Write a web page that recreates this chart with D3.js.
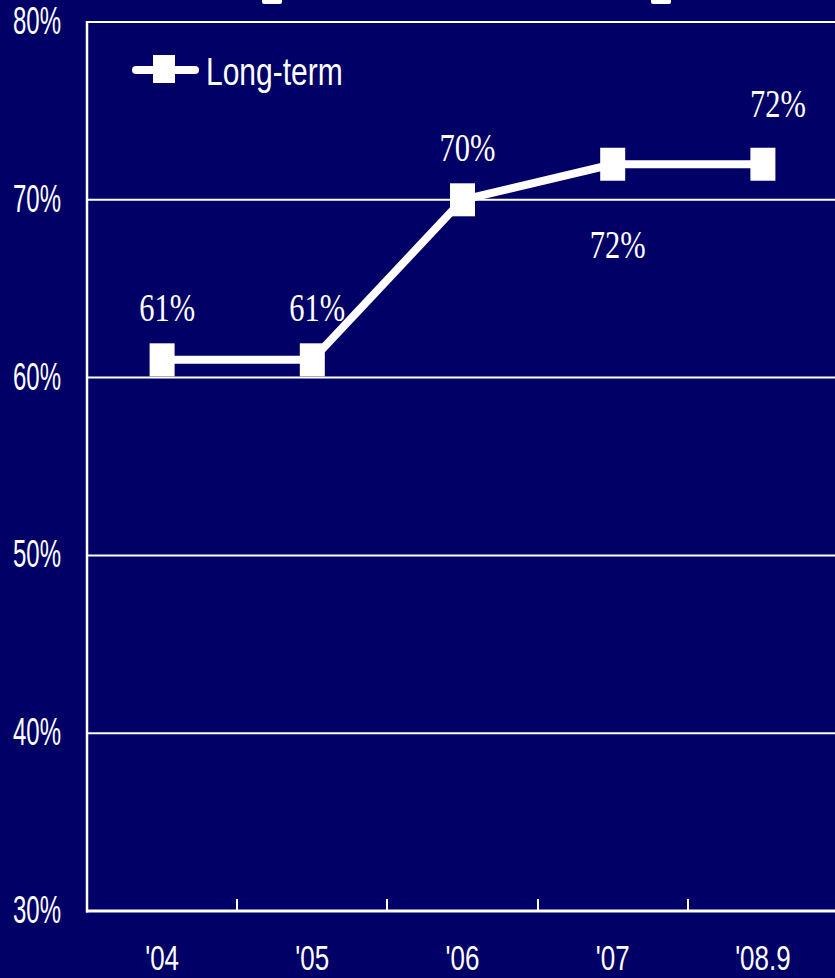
<!DOCTYPE html>
<html><head><meta charset="utf-8">
<script src="https://cdn.jsdelivr.net/npm/d3@7"></script>
<style>html,body{margin:0;padding:0;background:#000066;overflow:hidden}</style>
</head><body>
<script>
const categories = ["'04", "'05", "'06", "'07", "'08.9"];
const longTerm = [61, 61, 70, 72, 72];
const valueLabels = ["61%", "61%", "70%", "72%", "72%"];
const labelPlacement = ["above", "above", "above", "below", "aboveRight"];
const yTicks = [30, 40, 50, 60, 70, 80];
const seriesName = "Long-term";

(function () {
const W = 835, H = 978;
const bg = "#000066";
const svg = d3.select("body").append("svg").attr("width", W).attr("height", H);
svg.append("rect").attr("width", W).attr("height", H).attr("fill", bg);

const pLeft = 87, pTop = 22, pBottom = 911, pRight = 838;
const x = d3.scaleBand().domain(categories).range([pLeft, pRight]);
const y = d3.scaleLinear().domain([30, 80]).range([pBottom, pTop]);
const placeOffset = { above: [5, -39], below: [5, 94], aboveRight: [15, -47] };

// fragments of clipped title at top
[[262, 282], [651, 671]].forEach(([a, b]) => {
  svg.append("rect").attr("x", a).attr("y", -6).attr("width", b - a).attr("height", 10).attr("rx", 2).attr("fill", "#fff");
});

// grid lines
svg.append("g").selectAll("line").data(yTicks.filter(t => t > 30)).join("line")
  .attr("x1", pLeft).attr("x2", W + 5)
  .attr("y1", d => y(d)).attr("y2", d => y(d))
  .attr("stroke", "#fff").attr("stroke-width", 2);

// axes frame
svg.append("line").attr("x1", pLeft).attr("x2", pLeft).attr("y1", pTop - 1).attr("y2", pBottom + 1.5)
  .attr("stroke", "#fff").attr("stroke-width", 2.5);
svg.append("line").attr("x1", pLeft - 1).attr("x2", W + 5).attr("y1", pBottom).attr("y2", pBottom)
  .attr("stroke", "#fff").attr("stroke-width", 3);

// x ticks at band boundaries
svg.append("g").selectAll("line").data(categories.slice(1)).join("line")
  .attr("x1", d => Math.round(x(d))).attr("x2", d => Math.round(x(d)))
  .attr("y1", pBottom - 12).attr("y2", pBottom)
  .attr("stroke", "#fff").attr("stroke-width", 2);

// y tick labels
svg.append("g").selectAll("text").data(yTicks).join("text")
  .attr("transform", d => `translate(61,${y(d) + 12}) scale(1,1.6)`)
  .attr("text-anchor", "end")
  .attr("font-family", "Liberation Sans, Arial, sans-serif")
  .attr("font-size", 24).attr("fill", "#fff")
  .text(d => d + "%");

// x tick labels
svg.append("g").selectAll("text").data(categories).join("text")
  .attr("transform", d => `translate(${x(d) + x.bandwidth() / 2},970) scale(1,1.34)`)
  .attr("text-anchor", "middle")
  .attr("font-family", "Liberation Sans, Arial, sans-serif")
  .attr("font-size", 26).attr("fill", "#fff")
  .text(d => d);

// series line
const pts = categories.map((c, i) => [x(c) + x.bandwidth() / 2, y(longTerm[i])]);
svg.append("path").attr("d", d3.line()(pts))
  .attr("fill", "none").attr("stroke", "#fff").attr("stroke-width", 8).attr("stroke-linejoin", "miter");

// markers
svg.append("g").selectAll("rect").data(pts).join("rect")
  .attr("x", d => d[0] - 12.5).attr("y", d => d[1] - 16.5)
  .attr("width", 25).attr("height", 33).attr("fill", "#fff");

// value labels
svg.append("g").selectAll("text").data(pts).join("text")
  .attr("transform", (d, i) => {
    const o = placeOffset[labelPlacement[i]];
    return `translate(${d[0] + o[0]},${d[1] + o[1]}) scale(1,1.31)`;
  })
  .attr("text-anchor", "middle")
  .attr("font-family", "Liberation Serif, Times New Roman, serif")
  .attr("font-size", 30.5).attr("fill", "#fff")
  .text((d, i) => valueLabels[i]);

// legend
const lg = svg.append("g");
lg.append("line").attr("x1", 136).attr("x2", 195).attr("y1", 70).attr("y2", 70)
  .attr("stroke", "#fff").attr("stroke-width", 8).attr("stroke-linecap", "round");
lg.append("rect").attr("x", 153).attr("y", 55).attr("width", 22).attr("height", 28).attr("fill", "#fff");
lg.append("text").attr("transform", "translate(206,85) scale(1,1.3)")
  .attr("font-family", "Liberation Sans, Arial, sans-serif")
  .attr("font-size", 30).attr("fill", "#fff").text(seriesName);
})();
</script>
</body></html>
